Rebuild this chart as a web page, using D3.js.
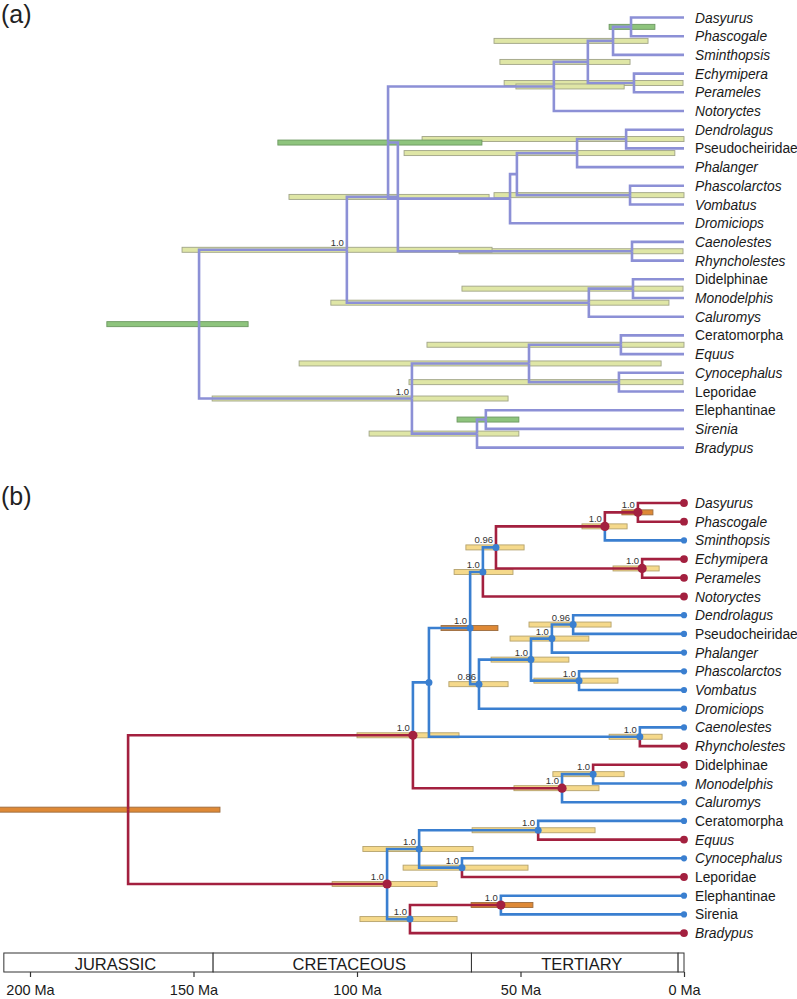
<!DOCTYPE html>
<html><head><meta charset="utf-8">
<script src="https://cdn.jsdelivr.net/npm/d3@7/dist/d3.min.js"></script>
<style>body{margin:0;background:#fff}svg{display:block;font-family:"Liberation Sans",Arial,sans-serif}</style>
</head><body>
<svg id="chart" width="797" height="999"></svg>
<script>
// ---------- DATA ----------
const taxa = ["Dasyurus","Phascogale","Sminthopsis","Echymipera","Perameles","Notoryctes","Dendrolagus","Pseudocheiridae","Phalanger","Phascolarctos","Vombatus","Dromiciops","Caenolestes","Rhyncholestes","Didelphinae","Monodelphis","Caluromys","Ceratomorpha","Equus","Cynocephalus","Leporidae","Elephantinae","Sirenia","Bradypus"];
const uprightA = ["Pseudocheiridae","Didelphinae","Ceratomorpha","Leporidae","Elephantinae"];
const uprightB = ["Pseudocheiridae","Didelphinae","Ceratomorpha","Leporidae","Elephantinae","Sirenia"];
const tipStatesB = ["R","R","B","R","R","R","B","B","B","B","B","B","B","R","R","B","B","B","R","B","R","B","B","R"];

// panel (a): [node, child 1, child 2, mean age (Ma)]
const cladesA = [
  ["A1","Dasyurus","Phascogale",16.2],
  ["A2","A1","Sminthopsis",21.7],
  ["A3","Echymipera","Perameles",15.3],
  ["A4","A2","A3",29.4],
  ["A5","A4","Notoryctes",39.8],
  ["D1","Dendrolagus","Pseudocheiridae",17.7],
  ["D2","D1","Phalanger",32.7],
  ["D3","Phascolarctos","Vombatus",16.5],
  ["D4","D2","D3",51.1],
  ["D5","D4","Dromiciops",53.2],
  ["Q","A5","D5",90.5],
  ["C1","Caenolestes","Rhyncholestes",15.9],
  ["P","Q","C1",87.5],
  ["E1","Didelphinae","Monodelphis",15.6],
  ["E2","E1","Caluromys",29.1],
  ["Z","P","E2",103.1],
  ["L1","Ceratomorpha","Equus",19.3],
  ["L2","Cynocephalus","Leporidae",19.9],
  ["L3","L1","L2",47.4],
  ["X1","Elephantinae","Sirenia",60.6],
  ["X2","X1","Bradypus",63.3],
  ["PL","L3","X2",83.2],
  ["R","Z","PL",148.3]
];
// panel (a) 95% HPD bars: [node, oldest, youngest, kind]
const hpdA = [
  ["A1",22.9,8.9,"dark"],["A2",58.1,11.0,"light"],["A3",55.0,0.3,"light"],["A4",56.3,16.5,"light"],
  ["A5",51.4,18.3,"light"],["D1",80.1,0,"light"],["D2",85.6,2.8,"light"],["D3",58.1,0,"light"],
  ["Q",124.2,61.8,"dark"],["P",120.8,59.6,"light"],["C1",68.8,0.3,"light"],["E1",67.9,0.3,"light"],
  ["E2",108.0,4.6,"light"],["Z",153.5,58.7,"light"],["L1",78.6,0,"light"],["L2",84.1,0.3,"light"],
  ["L3",117.7,7.0,"light"],["X1",69.4,50.5,"dark"],["X2",96.3,50.5,"light"],["PL",144.3,53.8,"light"],
  ["R",176.5,133.3,"dark"]
];
const supportA = [["Z","1.0"],["PL","1.0"]];

// panel (b): [node, child 1, child 2, mean age (Ma)]
const cladesB = [
  ["B1","Dasyurus","Phascogale",14.1],
  ["B2","B1","Sminthopsis",24.2],
  ["B3","Echymipera","Perameles",12.8],
  ["B4","B2","B3",57.5],
  ["B5","B4","Notoryctes",61.5],
  ["B6","Dendrolagus","Pseudocheiridae",33.9],
  ["B7","B6","Phalanger",40.4],
  ["B8","Phascolarctos","Vombatus",32.1],
  ["B9","B7","B8",46.8],
  ["B10","B9","Dromiciops",62.7],
  ["B11","B5","B10",65.4],
  ["B12","Caenolestes","Rhyncholestes",13.5],
  ["B13","B11","B12",78.0],
  ["B14","Didelphinae","Monodelphis",27.8],
  ["B15","B14","Caluromys",37.3],
  ["B16","B13","B15",82.9],
  ["B17","Ceratomorpha","Equus",44.6],
  ["B18","Cynocephalus","Leporidae",67.9],
  ["B19","B17","B18",81.0],
  ["B20","Elephantinae","Sirenia",56.0],
  ["B21","B20","Bradypus",83.8],
  ["B22","B19","B21",90.8],
  ["B23","B16","B22",170.0]
];
const hpdB = [
  ["B1",19.0,9.5,"orange"],["B2",31.2,17.4,"yellow"],["B3",21.7,7.6,"yellow"],["B4",66.7,48.9,"yellow"],
  ["B5",70.3,52.3,"yellow"],["B6",47.4,22.3,"yellow"],["B7",53.2,29.1,"yellow"],["B8",45.9,20.2,"yellow"],
  ["B9",59.0,35.2,"yellow"],["B10",71.9,53.8,"yellow"],["B11",74.3,56.9,"orange"],["B12",22.9,6.7,"yellow"],
  ["B14",40.1,18.3,"yellow"],["B15",52.0,26.0,"yellow"],["B16",100.0,68.8,"yellow"],["B17",64.8,27.2,"yellow"],
  ["B18",85.9,47.7,"yellow"],["B19",98.2,64.5,"yellow"],["B20",65.1,46.2,"orange"],["B21",99.1,69.4,"yellow"],
  ["B22",107.6,75.5,"yellow"],["B23",209.5,141.9,"orange"]
];
const supportB = [["B1","1.0"],["B2","1.0"],["B3","1.0"],["B4","0.96"],["B5","1.0"],["B6","0.96"],["B7","1.0"],["B8","1.0"],["B9","1.0"],["B10","0.86"],["B11","1.0"],["B12","1.0"],["B14","1.0"],["B15","1.0"],["B16","1.0"],["B17","1.0"],["B18","1.0"],["B19","1.0"],["B20","1.0"],["B21","1.0"],["B22","1.0"]];
const statesB = [["B1","R"],["B2","R"],["B3","R"],["B4","B"],["B5","B"],["B6","B"],["B7","B"],["B8","B"],["B9","B"],["B10","B"],["B11","B"],["B12","B"],["B13","B"],["B14","B"],["B15","R"],["B16","R"],["B17","B"],["B18","B"],["B19","B"],["B20","R"],["B21","B"],["B22","R"],["B23","R"]];

const periods = [["JURASSIC",208,144],["CRETACEOUS",144,65],["TERTIARY",65,1.8],["",1.8,0]];
const tickAges = [200,150,100,50,0];

// ---------- STYLE ----------
const COL = {
  lav:"#8c90d6", red:"#a3203f", blue:"#3a7fd0",
  bars:{light:["#dfe6a6","#a0a487"],dark:["#8ec47d","#6c9860"],yellow:["#f5d98b","#b5a26c"],orange:["#de8936","#9c6c3e"]}
};

const svg = d3.select("#chart");
const x = d3.scaleLinear().domain([200,0]).range([30,684]);
const yA = d3.scaleLinear().domain([0,23]).range([17.5,447.6]);
const yB = d3.scaleLinear().domain([0,23]).range([503,933.1]);

function buildTree(clades, yScale){
  const map = new Map();
  taxa.forEach((t,i)=>map.set(t,{id:t,age:0,index:i}));
  clades.forEach(([id,a,b,age])=>map.set(id,{id,age,kids:[a,b]}));
  const kidSet = new Set(clades.flatMap(c=>[c[1],c[2]]));
  const rootId = clades.find(c=>!kidSet.has(c[0]))[0];
  const root = d3.hierarchy(map.get(rootId), d=>d.kids ? d.kids.map(k=>map.get(k)) : null);
  root.eachAfter(n=>{
    n.px = x(n.data.age);
    n.py = n.children ? (n.children[0].py + n.children[n.children.length-1].py)/2 : yScale(n.data.index);
  });
  const byId = new Map(root.descendants().map(n=>[n.data.id,n]));
  return {root, byId};
}

function drawBars(g, hpd, byId){
  g.selectAll(null).data(hpd).join("rect")
    .attr("x",d=>x(d[1])).attr("width",d=>x(d[2])-x(d[1]))
    .attr("y",d=>byId.get(d[0]).py-2.5).attr("height",5)
    .attr("fill",d=>COL.bars[d[3]][0]).attr("stroke",d=>COL.bars[d[3]][1]).attr("stroke-width",0.9);
}
function drawEdges(g, root, colorFn){
  g.selectAll(null).data(root.descendants().filter(n=>n.parent)).join("path")
    .attr("d",n=>`M${n.parent.px},${n.parent.py}V${n.py}H${n.px}`)
    .attr("fill","none").attr("stroke",colorFn).attr("stroke-width",2.6)
    .attr("stroke-linejoin","miter");
}
function drawSupport(g, sup, byId){
  g.selectAll(null).data(sup).join("text")
    .attr("x",d=>byId.get(d[0]).px-3).attr("y",d=>byId.get(d[0]).py-4)
    .attr("text-anchor","end").attr("font-size",9.5).attr("fill","#333").text(d=>d[1]);
}
function drawTips(g, root, upright, dx){
  g.selectAll(null).data(root.leaves()).join("text")
    .attr("x",684+dx).attr("y",n=>n.py+5)
    .attr("font-size",13.8).attr("fill","#1a1a1a")
    .attr("font-style",n=>upright.includes(n.data.id)?"normal":"italic")
    .text(n=>n.data.id);
}

// ---------- PANEL (a) ----------
const gA = svg.append("g");
const TA = buildTree(cladesA, yA);
drawBars(gA, hpdA, TA.byId);
drawEdges(gA, TA.root, ()=>COL.lav);
drawSupport(gA, supportA, TA.byId);
drawTips(gA, TA.root, uprightA, 11);
svg.append("text").attr("x",1).attr("y",23).attr("font-size",25).attr("fill","#222").text("(a)");

// ---------- PANEL (b) ----------
const gB = svg.append("g");
const TB = buildTree(cladesB, yB);
const stateMap = new Map(statesB);
taxa.forEach((t,i)=>stateMap.set(t,tipStatesB[i]));
const stCol = n=>stateMap.get(n.data.id)==="R"?COL.red:COL.blue;
drawBars(gB, hpdB, TB.byId);
drawEdges(gB, TB.root, stCol);
gB.selectAll(null).data(TB.root.descendants().filter(n=>n.parent)).join("circle")
  .attr("cx",n=>n.px).attr("cy",n=>n.py)
  .attr("r",n=>{const r=stateMap.get(n.data.id)==="R"; return n.children ? (r?4.6:3.5) : (r?3.9:3.1);})
  .attr("fill",stCol);
drawSupport(gB, supportB, TB.byId);
drawTips(gB, TB.root, uprightB, 11);
svg.append("text").attr("x",1).attr("y",505).attr("font-size",25).attr("fill","#222").text("(b)");

// ---------- TIME SCALE ----------
const gT = svg.append("g");
const boxTop = 953, boxBot = 972;
gT.selectAll(null).data(periods).join("rect")
  .attr("x",d=>x(d[1])).attr("width",d=>x(d[2])-x(d[1]))
  .attr("y",boxTop).attr("height",boxBot-boxTop)
  .attr("fill","#fff").attr("stroke","#333").attr("stroke-width",1);
gT.selectAll(null).data(periods).join("text")
  .attr("x",d=>(x(d[1])+x(d[2]))/2+7).attr("y",boxBot-2.5)
  .attr("text-anchor","middle").attr("font-size",16.5).attr("fill","#1a1a1a").text(d=>d[0]);
const ax = gT.append("g").attr("transform",`translate(0,${boxBot})`)
  .call(d3.axisBottom(x).tickValues(tickAges).tickFormat(d=>d+" Ma").tickSize(5).tickPadding(8));
ax.select(".domain").remove();
ax.selectAll(".tick line").attr("stroke","#333").attr("stroke-width",1.2);
ax.selectAll(".tick text").attr("font-size",14.5).attr("fill","#1a1a1a").attr("font-family","Liberation Sans, Arial, sans-serif");
</script>
</body></html>
